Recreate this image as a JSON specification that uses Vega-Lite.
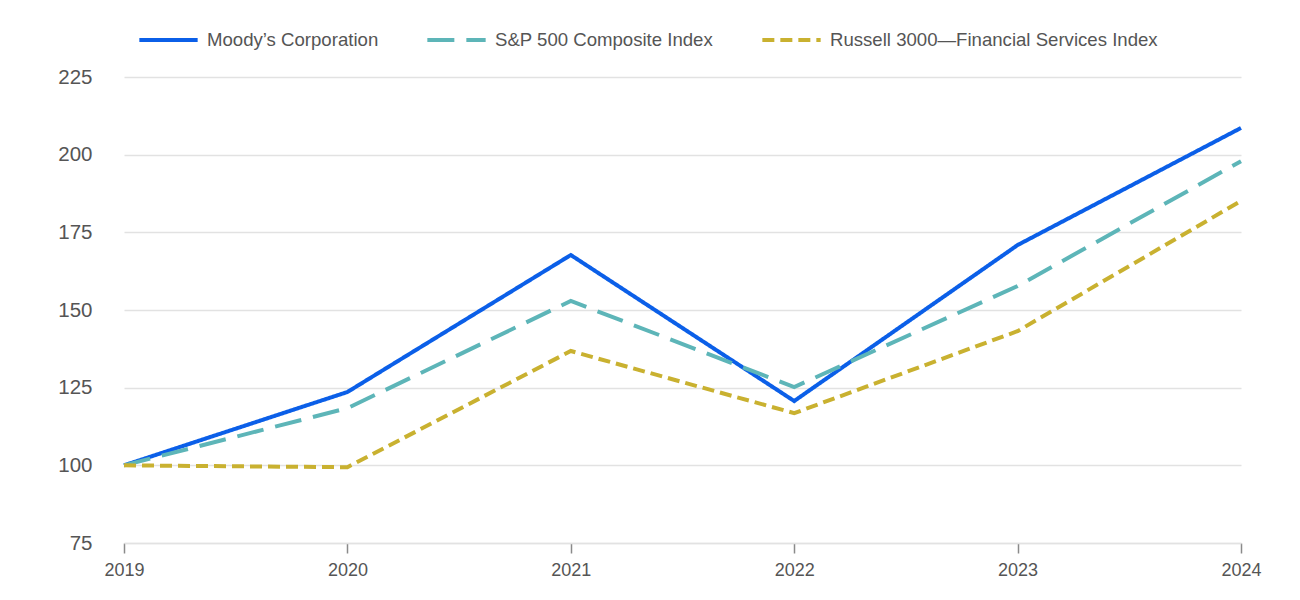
{
  "$schema": "https://vega.github.io/schema/vega-lite/v6.json",
  "width": 1117,
  "height": 466,
  "autosize": {"type": "none"},
  "padding": {"left": 124, "top": 77, "right": 59, "bottom": 57},
  "background": "white",
  "config": {
    "view": {"stroke": null},
    "font": "Liberation Sans"
  },
  "data": {
    "values": [
      {"year": "2019", "series": "Moody’s Corporation", "value": 100},
      {"year": "2020", "series": "Moody’s Corporation", "value": 123.6},
      {"year": "2021", "series": "Moody’s Corporation", "value": 167.7},
      {"year": "2022", "series": "Moody’s Corporation", "value": 120.7},
      {"year": "2023", "series": "Moody’s Corporation", "value": 170.9},
      {"year": "2024", "series": "Moody’s Corporation", "value": 208.6},
      {"year": "2019", "series": "S&P 500 Composite Index", "value": 100},
      {"year": "2020", "series": "S&P 500 Composite Index", "value": 118.4},
      {"year": "2021", "series": "S&P 500 Composite Index", "value": 152.9},
      {"year": "2022", "series": "S&P 500 Composite Index", "value": 125.2},
      {"year": "2023", "series": "S&P 500 Composite Index", "value": 157.7},
      {"year": "2024", "series": "S&P 500 Composite Index", "value": 197.9},
      {"year": "2019", "series": "Russell 3000—Financial Services Index", "value": 100},
      {"year": "2020", "series": "Russell 3000—Financial Services Index", "value": 99.4},
      {"year": "2021", "series": "Russell 3000—Financial Services Index", "value": 136.8},
      {"year": "2022", "series": "Russell 3000—Financial Services Index", "value": 116.8},
      {"year": "2023", "series": "Russell 3000—Financial Services Index", "value": 143.2},
      {"year": "2024", "series": "Russell 3000—Financial Services Index", "value": 185.1}
    ]
  },
  "mark": {"type": "line", "strokeWidth": 4, "strokeCap": "butt", "strokeJoin": "miter"},
  "encoding": {
    "x": {
      "field": "year",
      "type": "ordinal",
      "scale": {"type": "point", "padding": 0},
      "axis": {
        "title": null,
        "labelAngle": 0,
        "labelFontSize": 18,
        "labelColor": "#555555",
        "labelPadding": 8,
        "tickColor": "#8a8a8a",
        "tickWidth": 1.5,
        "tickSize": 10,
        "domainColor": "#e2e2e2",
        "domainWidth": 1.5,
        "grid": false
      }
    },
    "y": {
      "field": "value",
      "type": "quantitative",
      "scale": {"domain": [75, 225], "nice": false, "zero": false},
      "axis": {
        "title": null,
        "values": [75, 100, 125, 150, 175, 200, 225],
        "labelFontSize": 20.5,
        "labelColor": "#555555",
        "labelPadding": 32,
        "ticks": false,
        "domain": false,
        "grid": true,
        "gridColor": "#e2e2e2",
        "gridWidth": 1.5
      }
    },
    "color": {
      "field": "series",
      "type": "nominal",
      "scale": {
        "domain": ["Moody’s Corporation", "S&P 500 Composite Index", "Russell 3000—Financial Services Index"],
        "range": ["#0b5fe8", "#5db5b8", "#c9b130"]
      },
      "legend": {
        "title": null,
        "orient": "none",
        "legendX": 13,
        "legendY": -69,
        "direction": "horizontal",
        "symbolType": "stroke",
        "symbolSize": 3400,
        "symbolStrokeWidth": 4,
        "labelFontSize": 18.6,
        "labelColor": "#555555",
        "labelOffset": 7,
        "columnPadding": 40,
        "labelLimit": 0
      }
    },
    "strokeDash": {
      "field": "series",
      "type": "nominal",
      "scale": {
        "domain": ["Moody’s Corporation", "S&P 500 Composite Index", "Russell 3000—Financial Services Index"],
        "range": [[1, 0], [27, 12], [12, 6]]
      }
    }
  }
}
